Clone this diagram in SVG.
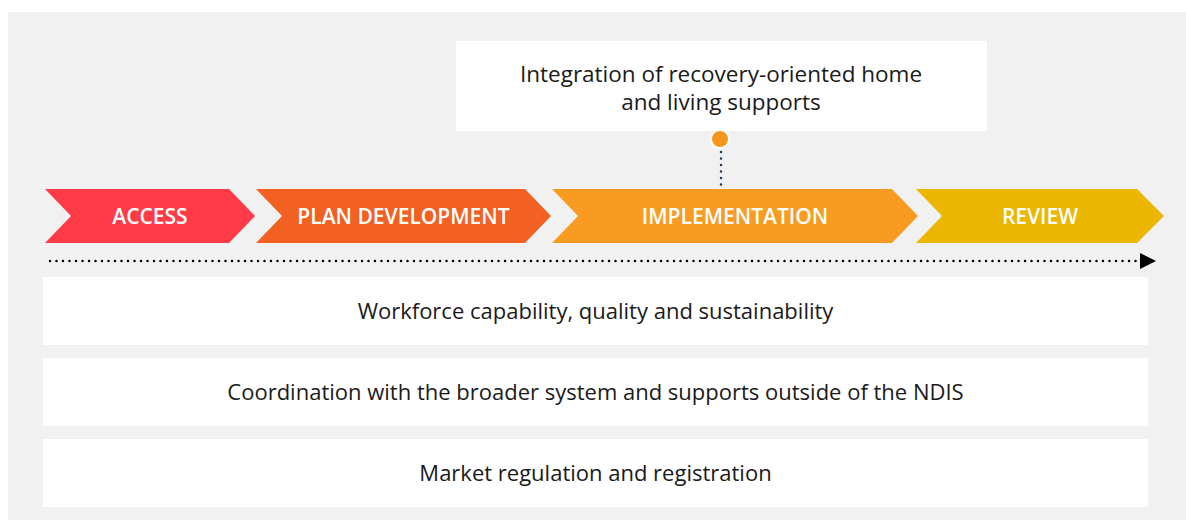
<svg xmlns="http://www.w3.org/2000/svg" width="1186" height="520" viewBox="0 0 1186 520">
<defs>
<style>
.lbl{font-family:"Open Sans","Noto Sans","Liberation Sans",sans-serif;font-size:22px;fill:#1a1a1a;text-anchor:middle}
.call{font-size:22.5px}
.stage{font-family:"Open Sans","Noto Sans","Liberation Sans",sans-serif;font-size:21px;font-weight:600;fill:#ffffff;text-anchor:middle}
.box{fill:#ffffff}
</style>
<marker id="arrow" viewBox="0 0 16 16" refX="0" refY="8" markerWidth="16" markerHeight="16" markerUnits="userSpaceOnUse" orient="auto">
<path d="M0,0 L16,8 L0,16 Z" fill="#000000"/>
</marker>
</defs>
<rect x="0" y="0" width="1186" height="520" fill="#ffffff"/>
<rect x="8" y="12" width="1178" height="508" fill="#f1f1f1"/>

<g id="callout">
<rect class="box" x="456" y="41" width="531" height="90"/>
<text class="lbl call" x="721" y="82">Integration of recovery-oriented home</text>
<text class="lbl call" x="721" y="110">and living supports</text>
</g>

<g id="stage-access">
<polygon points="45,189 229,189 255,216 229,243 45,243 71,216" fill="#ff3b47"/>
<text class="stage" x="150" y="224">ACCESS</text>
</g>
<g id="stage-plan">
<polygon points="256,189 525,189 551,216 525,243 256,243 282,216" fill="#f26122"/>
<text class="stage" x="403.5" y="224">PLAN DEVELOPMENT</text>
</g>
<g id="stage-implementation">
<polygon points="552,189 892,189 918,216 892,243 552,243 578,216" fill="#f99b21"/>
<text class="stage" x="735" y="224">IMPLEMENTATION</text>
</g>
<g id="stage-review">
<polygon points="916,189 1137,189 1164,216 1137,243 916,243 942,216" fill="#eab600"/>
<text class="stage" x="1040" y="224">REVIEW</text>
</g>

<g id="connectors">
<line x1="721" y1="152" x2="721" y2="187" stroke="#1f3a5f" stroke-width="2.5" stroke-linecap="round" stroke-dasharray="0 6.5"/>
<circle cx="720" cy="139" r="9" fill="#f7941d" stroke="#ffffff" stroke-width="2"/>
<line x1="50" y1="261" x2="1140" y2="261" stroke="#000000" stroke-width="2.5" stroke-linecap="round" stroke-dasharray="0 6.5" marker-end="url(#arrow)"/>
</g>

<g id="band-workforce">
<rect class="box" x="43" y="277" width="1105" height="68"/>
<text class="lbl" x="595.5" y="319">Workforce capability, quality and sustainability</text>
</g>
<g id="band-coordination">
<rect class="box" x="43" y="358" width="1105" height="68"/>
<text class="lbl" x="595.5" y="400">Coordination with the broader system and supports outside of the NDIS</text>
</g>
<g id="band-market">
<rect class="box" x="43" y="439" width="1105" height="68"/>
<text class="lbl" x="595.5" y="481">Market regulation and registration</text>
</g>
</svg>
